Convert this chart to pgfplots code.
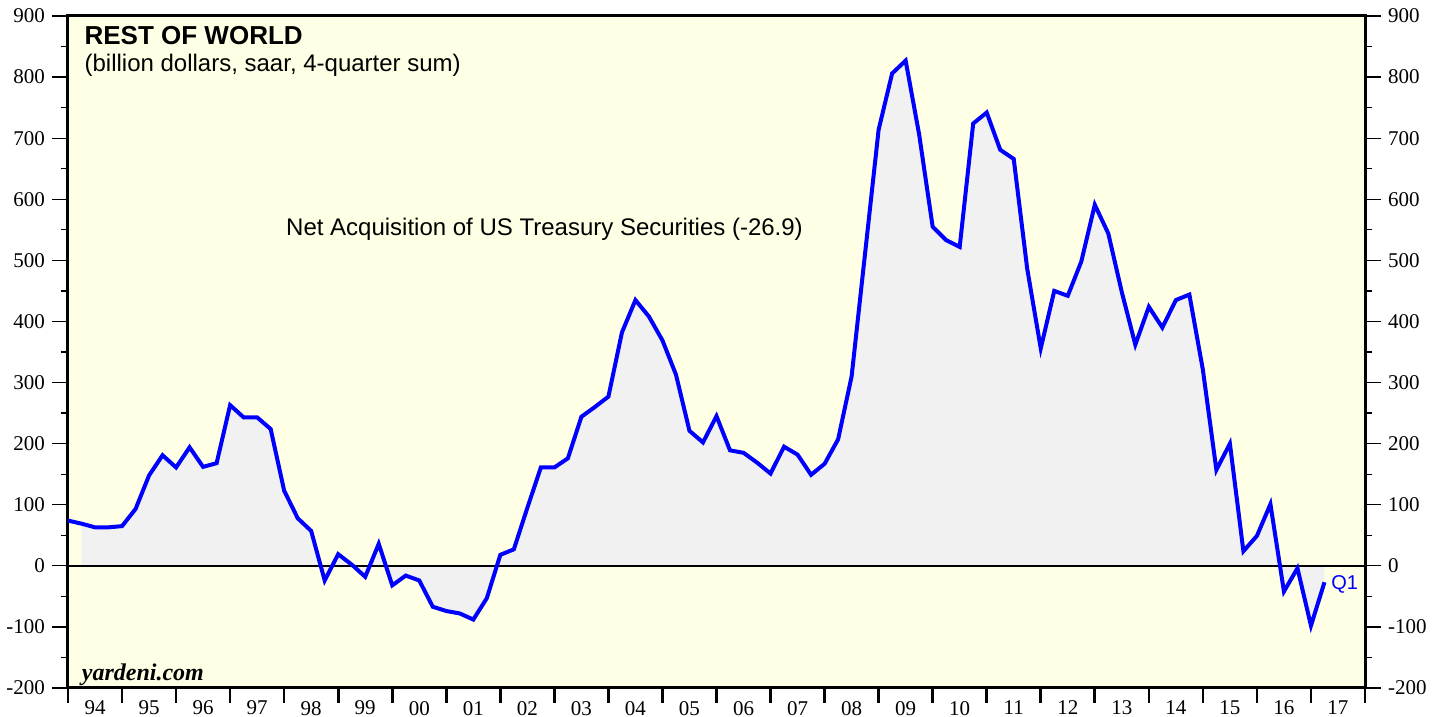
\documentclass[border=0pt]{standalone}
\usepackage{fontspec}
\setmainfont{Liberation Serif}
\newfontfamily\arial{Liberation Sans}
\usepackage{pgfplots}
\pgfplotsset{compat=1.18}
\usepackage{pgfplotstable}
\definecolor{bgyel}{RGB}{255,255,229}
\definecolor{areagray}{RGB}{241,241,241}
\definecolor{lineblue}{RGB}{0,0,255}

\pgfplotstableread{
x y
1994.00 74
1994.25 69
1994.50 63
1994.75 63
1995.00 65
1995.25 93
1995.50 148
1995.75 181
1996.00 161
1996.25 194
1996.50 162
1996.75 168
1997.00 263
1997.25 243
1997.50 243
1997.75 224
1998.00 123
1998.25 78
1998.50 57
1998.75 -24
1999.00 19
1999.25 2
1999.50 -18
1999.75 36
2000.00 -32
2000.25 -16
2000.50 -24
2000.75 -67
2001.00 -74
2001.25 -78
2001.50 -88
2001.75 -53
2002.00 18
2002.25 27
2002.50 95
2002.75 161
2003.00 161
2003.25 176
2003.50 244
2003.75 260
2004.00 277
2004.25 382
2004.50 435
2004.75 408
2005.00 369
2005.25 313
2005.50 221
2005.75 202
2006.00 245
2006.25 189
2006.50 185
2006.75 169
2007.00 151
2007.25 195
2007.50 182
2007.75 149
2008.00 167
2008.25 207
2008.50 310
2008.75 512
2009.00 714
2009.25 806
2009.50 827
2009.75 706
2010.00 555
2010.25 533
2010.50 522
2010.75 724
2011.00 742
2011.25 681
2011.50 666
2011.75 486
2012.00 356
2012.25 450
2012.50 442
2012.75 498
2013.00 591
2013.25 544
2013.50 448
2013.75 362
2014.00 424
2014.25 390
2014.50 435
2014.75 444
2015.00 321
2015.25 157
2015.50 200
2015.75 24
2016.00 49
2016.25 101
2016.50 -42
2016.75 -4
2017.00 -98
2017.25 -26.9
}\datatable

\pgfplotsset{
  commonaxis/.style={
    scale only axis, width=648.5pt, height=336pt,
    xmin=1994, xmax=2018, ymin=-200, ymax=900,
    ytick={-200,-100,...,900},
    minor y tick num=1,
    tick align=outside,
    major tick length=8pt, minor tick length=3.7pt,
    ytick style={line width=0.6pt, black},
    axis line style={line width=1.5pt},
    /pgf/number format/assume math mode=true,
    yticklabel style={font=\fontsize{10.5}{12}\selectfont},
  }
}

\begin{document}
\begin{tikzpicture}
\begin{axis}[commonaxis, name=ax,
  axis background/.style={fill=bgyel},
  ytick pos=left,
  xtick={1994.5,1995.5,...,2017.5},
  xticklabels={94,95,96,97,98,99,00,01,02,03,04,05,06,07,08,09,10,11,12,13,14,15,16,17},
  xtick pos=bottom,
  xtick style={draw=none},
  xticklabel style={font=\fontsize{10.5}{12}\selectfont, yshift=5pt},
  extra x ticks={1994,1995,...,2018},
  extra x tick labels={},
  extra x tick style={xtick style={draw=black, line width=1.3pt}, major tick length=7.5pt},
]
\addplot[draw=none, fill=areagray, restrict x to domain=1994.2:2018] table[x=x,y=y] {\datatable} \closedcycle;
\addplot[black, line width=0.7pt] coordinates {(1994,0) (2018,0)};
\addplot[lineblue, line width=2pt, line join=miter] table[x=x,y=y] {\datatable};

\node[anchor=base west, inner sep=0pt] at (axis cs:1994.30,854) {\arial\bfseries\fontsize{13}{15}\selectfont REST OF WORLD};
\node[anchor=base west, inner sep=0pt] at (axis cs:1994.30,809) {\arial\fontsize{12}{14}\selectfont (billion dollars, saar, 4-quarter sum)};
\node[anchor=base west, inner sep=0pt] at (axis cs:1998.03,540) {\arial\fontsize{12}{14}\selectfont Net Acquisition of US Treasury Securities (-26.9)};
\node[anchor=base west, inner sep=0pt] at (axis cs:1994.25,-187) {\bfseries\itshape\fontsize{12}{14}\selectfont yardeni.com};
\node[anchor=base west, inner sep=0pt, text=lineblue] at (axis cs:2017.37,-39) {\arial\fontsize{10}{12}\selectfont Q1};
\end{axis}
\begin{axis}[commonaxis,
  axis x line=none,
  axis y line*=right,
]
\end{axis}
\pgfresetboundingbox
\path[use as bounding box] ([xshift=-34pt,yshift=-14.5pt]ax.south west) rectangle ([xshift=40.5pt,yshift=8pt]ax.north east);
\end{tikzpicture}
\end{document}
